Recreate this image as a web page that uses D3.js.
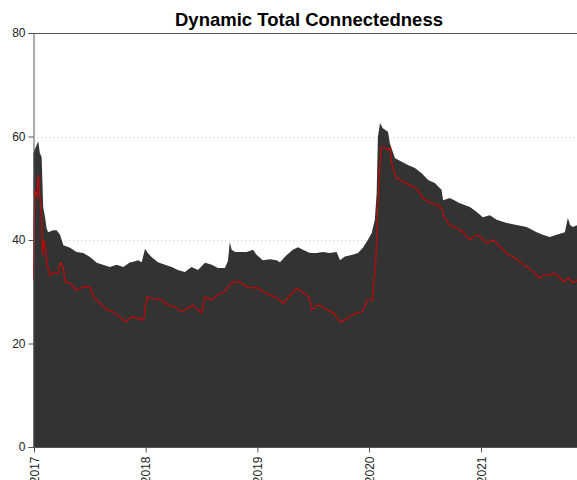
<!DOCTYPE html>
<html>
<head>
<meta charset="utf-8">
<script src="https://cdn.jsdelivr.net/npm/d3@7"></script>
<style>
  body { margin: 0; background: #fff; }
  svg { display: block; font-family: "Liberation Sans", Arial, sans-serif; }
</style>
</head>
<body>
<div id="chart"></div>
<script>
// total connectedness (dark area)
var totalDates = ["2016-12-30","2017-01-10","2017-01-15","2017-01-20","2017-01-26","2017-01-31","2017-02-06","2017-02-11","2017-02-16","2017-03-05","2017-03-16","2017-03-27","2017-04-07","2017-04-29","2017-05-20","2017-06-11","2017-07-03","2017-07-25","2017-08-14","2017-09-06","2017-09-28","2017-10-20","2017-11-11","2017-11-16","2017-12-07","2017-12-19","2017-12-30","2018-01-08","2018-01-20","2018-02-10","2018-03-05","2018-03-27","2018-04-16","2018-05-09","2018-05-31","2018-06-21","2018-07-14","2018-08-05","2018-08-25","2018-09-17","2018-09-27","2018-10-03","2018-10-09","2018-10-20","2018-11-05","2018-11-27","2018-12-18","2018-12-30","2019-01-19","2019-02-11","2019-03-05","2019-03-16","2019-04-07","2019-04-27","2019-05-14","2019-05-30","2019-06-22","2019-07-14","2019-08-03","2019-08-26","2019-09-17","2019-09-28","2019-10-14","2019-11-05","2019-11-26","2019-12-12","2019-12-28","2020-01-10","2020-01-20","2020-01-26","2020-01-30","2020-02-06","2020-02-15","2020-03-03","2020-03-09","2020-03-26","2020-04-17","2020-05-07","2020-05-30","2020-06-21","2020-07-12","2020-08-03","2020-08-25","2020-08-30","2020-09-21","2020-10-24","2020-11-26","2020-12-18","2021-01-07","2021-01-30","2021-02-21","2021-03-26","2021-04-27","2021-05-30","2021-07-02","2021-07-22","2021-08-14","2021-09-05","2021-10-02","2021-10-12","2021-10-19","2021-10-28","2021-11-12"];
var totalValues = [56.8,58.4,59.1,56.8,56.0,46.4,44.4,42.3,41.5,41.9,41.9,41.0,39.0,38.5,37.7,37.5,36.7,35.6,35.2,34.8,35.2,34.8,35.7,35.7,36.1,35.7,38.3,37.5,36.7,35.7,35.2,34.8,34.2,33.8,34.8,34.2,35.6,35.2,34.6,34.6,36.0,39.6,38.1,37.7,37.7,37.7,38.1,37.1,36.1,36.3,36.1,35.7,37.1,38.1,38.6,38.1,37.5,37.5,37.7,37.5,37.7,36.1,36.8,37.1,37.5,38.5,40.0,41.4,43.9,49.1,59.9,62.6,61.6,60.9,58.7,55.8,55.1,54.5,53.9,52.9,51.6,51.0,49.7,47.7,48.1,47.1,46.4,45.4,44.4,44.8,43.9,43.3,42.9,42.5,41.5,41.0,40.6,41.0,41.5,44.3,42.9,42.5,42.9];

// red series
var redDates = ["2016-12-30","2017-01-04","2017-01-10","2017-01-15","2017-01-20","2017-01-26","2017-01-29","2017-02-02","2017-02-09","2017-02-11","2017-02-22","2017-03-10","2017-03-21","2017-03-29","2017-04-07","2017-04-12","2017-04-29","2017-05-20","2017-06-11","2017-07-03","2017-07-14","2017-08-05","2017-08-27","2017-09-18","2017-10-10","2017-10-27","2017-11-16","2017-12-07","2017-12-25","2018-01-05","2018-01-20","2018-02-10","2018-02-22","2018-03-15","2018-04-06","2018-04-28","2018-05-19","2018-06-06","2018-06-21","2018-07-03","2018-07-14","2018-08-05","2018-08-25","2018-09-17","2018-09-27","2018-10-09","2018-10-20","2018-11-05","2018-11-27","2018-12-19","2018-12-30","2019-01-20","2019-02-11","2019-03-05","2019-03-27","2019-04-13","2019-04-29","2019-05-10","2019-05-27","2019-06-18","2019-06-29","2019-07-16","2019-08-01","2019-08-17","2019-09-08","2019-09-24","2019-10-05","2019-10-27","2019-11-18","2019-12-10","2019-12-27","2020-01-12","2020-01-18","2020-01-23","2020-01-29","2020-02-03","2020-02-09","2020-02-19","2020-03-02","2020-03-10","2020-03-16","2020-03-29","2020-04-09","2020-04-26","2020-05-12","2020-05-28","2020-06-08","2020-06-25","2020-07-16","2020-08-07","2020-08-23","2020-09-03","2020-09-21","2020-10-13","2020-11-04","2020-11-26","2020-12-07","2020-12-18","2021-01-04","2021-01-20","2021-01-30","2021-02-11","2021-02-27","2021-03-15","2021-04-01","2021-04-17","2021-05-04","2021-05-20","2021-06-06","2021-06-22","2021-07-09","2021-07-25","2021-08-11","2021-08-27","2021-09-13","2021-09-29","2021-10-15","2021-10-27","2021-11-12"];
var redValues = [32.3,49.7,48.3,52.6,48.3,44.4,37.1,40.0,38.1,35.6,33.2,33.8,33.6,35.6,34.8,31.9,31.7,30.3,30.9,30.9,29.0,27.8,26.5,26.1,25.1,24.2,25.1,24.9,24.5,29.0,28.8,28.6,28.4,27.4,27.1,26.1,26.9,27.4,26.5,25.9,29.0,28.4,29.4,30.0,30.9,31.7,31.9,31.9,30.9,30.7,30.9,30.0,29.4,28.8,27.8,29.0,30.0,30.7,30.0,29.0,26.5,27.4,27.2,26.5,25.9,24.5,24.2,25.1,25.9,26.1,28.4,28.4,32.9,35.6,45.8,52.2,57.8,58.0,57.4,57.8,54.5,52.2,51.6,51.2,50.6,50.2,49.7,48.1,47.3,46.8,46.4,44.4,42.9,42.3,41.5,40.0,40.6,41.0,40.4,39.4,39.6,40.0,39.0,38.1,37.1,36.7,36.1,35.2,34.6,33.8,32.7,33.2,33.2,33.6,32.9,31.9,32.7,31.7,32.3];

var yTicks = [0, 20, 40, 60, 80];
var xTickLabels = ["2017", "2018", "2019", "2020", "2021"];
var titleText = "Dynamic Total Connectedness";

var W = 577, H = 480;
var plotLeft = 33, plotTop = 33, plotBottom = 447;

var parse = d3.timeParse("%Y-%m-%d");
var total = totalDates.map(function(d, i) { return {date: parse(d), value: totalValues[i]}; });
var red = redDates.map(function(d, i) { return {date: parse(d), value: redValues[i]}; });

var svg = d3.select("#chart").append("svg")
    .attr("width", W).attr("height", H);

// 2017-01-01 sits at x=34, 2021-01-01 at x=481
var x = d3.scaleTime()
    .domain([parse("2017-01-01"), parse("2021-01-01")])
    .range([34, 481]);
var y = d3.scaleLinear().domain([0, 80]).range([plotBottom, plotTop]);

svg.append("defs").append("clipPath").attr("id", "clip")
  .append("rect").attr("x", plotLeft).attr("y", plotTop)
  .attr("width", W - plotLeft).attr("height", plotBottom - plotTop);

// dotted gridlines
svg.selectAll(".grid").data(yTicks.filter(function(t) { return t > 0 && t < 80; }))
  .enter().append("line")
    .attr("class", "grid")
    .attr("x1", plotLeft).attr("x2", W)
    .attr("y1", function(d) { return Math.round(y(d)) + 0.5; })
    .attr("y2", function(d) { return Math.round(y(d)) + 0.5; })
    .attr("stroke", "#cfcfcf").attr("stroke-width", 1)
    .attr("stroke-dasharray", "1,3");

var plot = svg.append("g").attr("clip-path", "url(#clip)");

var area = d3.area()
    .x(function(d) { return x(d.date); })
    .y0(y(0))
    .y1(function(d) { return y(d.value); });

plot.append("path").datum(total)
    .attr("d", area)
    .attr("fill", "#333333");

var line = d3.line()
    .x(function(d) { return x(d.date); })
    .y(function(d) { return y(d.value); });

plot.append("path").datum(red)
    .attr("d", line)
    .attr("fill", "none")
    .attr("stroke", "#d40000")
    .attr("stroke-width", 1.1);

// top of the box
svg.append("line").attr("x1", plotLeft).attr("x2", W)
    .attr("y1", plotTop + 0.5).attr("y2", plotTop + 0.5)
    .attr("stroke", "#555").attr("stroke-width", 1);

// y axis
var yAxis = svg.append("g")
    .attr("transform", "translate(" + (plotLeft + 0.5) + ",0)")
    .call(d3.axisLeft(y).tickValues(yTicks).tickSize(5).tickPadding(3).tickFormat(d3.format("d")));
yAxis.select(".domain").attr("stroke", "#555");
yAxis.selectAll(".tick line").attr("stroke", "#555");
yAxis.selectAll("text").attr("fill", "#222").style("font-size", "12px")
    .style("font-family", "'Liberation Sans', Arial, sans-serif");

// x axis
var xAxis = svg.append("g")
    .attr("transform", "translate(0," + (plotBottom + 0.5) + ")")
    .call(d3.axisBottom(x)
        .tickValues(xTickLabels.map(function(s) { return parse(s + "-01-01"); }))
        .tickSize(5)
        .tickFormat(function(d, i) { return xTickLabels[i]; }));
xAxis.select(".domain").attr("d", "M" + plotLeft + ",0H" + W).attr("stroke", "#555");
xAxis.selectAll(".tick line").attr("stroke", "#555");
xAxis.selectAll("text")
    .attr("fill", "#222")
    .style("font-size", "12px")
    .style("font-family", "'Liberation Sans', Arial, sans-serif")
    .attr("text-anchor", "end")
    .attr("transform", "rotate(-90)")
    .attr("x", -9).attr("y", 0).attr("dy", "0.35em");

// title
svg.append("text")
    .attr("x", 309).attr("y", 26)
    .attr("text-anchor", "middle")
    .style("font-size", "18.5px")
    .style("font-weight", "bold")
    .attr("fill", "#000")
    .text(titleText);
</script>
</body>
</html>
